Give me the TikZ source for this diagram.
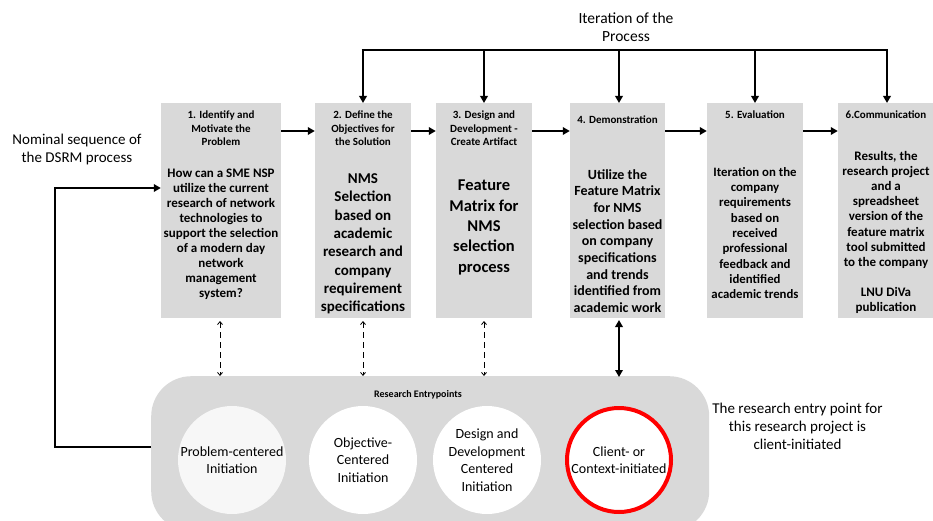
\documentclass[tikz,border=0pt]{standalone}
\usepackage{fontspec}
\setmainfont{Carlito}
\usetikzlibrary{arrows.meta}
\definecolor{boxgray}{HTML}{D9D9D9}
\definecolor{softwhite}{HTML}{F7F7F7}
\definecolor{entryred}{HTML}{FF0000}
\newcommand{\fs}[2]{\fontsize{#1}{#2}\selectfont}
\begin{document}
\begin{tikzpicture}[x=1pt,y=-1pt,
  stepbox/.style={fill=boxgray, draw=none, minimum height=215, inner sep=0, anchor=north},
  hdr/.style={align=center, inner sep=0, font=\fs{11}{13.5}\bfseries},
  body/.style={align=center, inner sep=0},
  flow/.style={line width=2.2pt, -{Triangle[length=7pt,width=7.5pt]}},
  drop/.style={line width=1.8pt, -{Triangle[length=7pt,width=7.5pt]}},
  dashlink/.style={line width=0.8pt, dash pattern=on 6pt off 4pt, {Straight Barb[length=3pt,width=5pt]}-{Straight Barb[length=3pt,width=5pt]}},
  mainlink/.style={line width=2pt, {Triangle[length=7pt,width=7.5pt]}-{Triangle[length=7pt,width=7.5pt]}},
  entry/.style={circle, minimum size=108, inner sep=0, align=center, font=\fs{14}{17.5}},
  note/.style={align=center, inner sep=0, font=\fs{15}{18}}
]
\useasboundingbox (0,0) rectangle (933,521);

% six process steps
\node[stepbox, minimum width=120] (b1) at (221,103) {};
\node[stepbox, minimum width=96] (b2) at (363,103) {};
\node[stepbox, minimum width=96] (b3) at (484,103) {};
\node[stepbox, minimum width=95] (b4) at (617.5,103) {};
\node[stepbox, minimum width=96] (b5) at (755,103) {};
\node[stepbox, minimum width=96] (b6) at (886,103) {};

% step headings
\node[hdr] (h1) at (221,128.5) {1. Identify and\\Motivate the\\Problem};
\node[hdr] (h2) at (363,128.5) {2. Define the\\Objectives for\\the Solution};
\node[hdr] (h3) at (484,128.5) {3. Design and\\Development -\\Create Artifact};
\node[hdr] (h4) at (617.5,120) {4. Demonstration};
\node[hdr] (h5) at (755,115) {5. Evaluation};
\node[hdr] (h6) at (886,115) {6.Communication};

% step contents
\node[body, font=\fs{13}{15}\bfseries] (c1) at (221,234) {How can a SME NSP\\utilize the current\\research of network\\technologies to\\support the selection\\of a modern day\\network\\management\\system?};
\node[body, font=\fs{15}{18.3}\bfseries] (c2) at (363,244) {NMS\\Selection\\based on\\academic\\research and\\company\\requirement\\specifications};
\node[body, font=\fs{16.5}{20.3}\bfseries] (c3) at (484,227.5) {Feature\\Matrix for\\NMS\\selection\\process};
\node[body, font=\fs{14}{16.7}\bfseries] (c4) at (617.5,241) {Utilize the\\Feature Matrix\\for NMS\\selection based\\on company\\specifications\\and trends\\identified from\\academic work};
\node[body, font=\fs{12.8}{15.3}\bfseries] (c5) at (755,233) {Iteration on the\\company\\requirements\\based on\\received\\professional\\feedback and\\identified\\academic trends};
\node[body, font=\fs{13}{15.1}\bfseries] (c6) at (886,232.5) {Results, the\\research project\\and a\\spreadsheet\\version of the\\feature matrix\\tool submitted\\to the company\\[15.1pt]LNU DiVa\\publication};

% nominal sequence
\draw[flow] ([yshift=-28pt]b1.north east) -- ([yshift=-28pt]b2.north west);
\draw[flow] ([yshift=-28pt]b2.north east) -- ([yshift=-28pt]b3.north west);
\draw[flow] ([yshift=-28pt]b3.north east) -- ([yshift=-28pt]b4.north west);
\draw[flow] ([yshift=-28pt]b4.north east) -- ([yshift=-28pt]b5.north west);
\draw[flow] ([yshift=-28pt]b5.north east) -- ([yshift=-28pt]b6.north west);

% iteration of the process
\node[note, font=\fs{15.5}{18}] (iter) at (626,27) {Iteration of the\\Process};
\coordinate (itr) at (0,50);
\coordinate (itl) at (363,50);
\coordinate (itrr) at (887,50);
\draw[line width=2.8pt] ([xshift=-1.4pt]itl) -- ([xshift=1.4pt]itrr);
\draw[drop] (itl) -- (b2.north);
\draw[drop] (b3.north |- itr) -- (b3.north);
\draw[drop] (619,50) coordinate (it4) -- (it4 |- b4.north);
\draw[drop] (b5.north |- itr) -- (b5.north);
\draw[drop] (itrr) -- (itrr |- b6.north);

% research entry points
\node[fill=boxgray, rounded corners=40, minimum width=558, minimum height=155, inner sep=0, anchor=north west] (ent) at (151,376) {};
\node[inner sep=0, font=\fs{10}{12}\bfseries] (entl) at (418,395) {Research Entrypoints};
\node[entry, fill=softwhite] (e1) at (232,460) {Problem-centered\\Initiation};
\node[entry, fill=white] (e2) at (363,460) {Objective-\\Centered\\Initiation};
\node[entry, fill=white] (e3) at (487,460) {Design and\\Development\\Centered\\Initiation};
\node[entry, fill=white, draw=entryred, line width=4pt, minimum size=104] (e4) at (619,460) {Client- or\\Context-initiated};

% links between steps and entry points
\draw[dashlink] (220,321) coordinate (d1) -- (d1 |- ent.north);
\draw[dashlink] (363,321) coordinate (d2) -- (d2 |- ent.north);
\draw[dashlink] (484,321) coordinate (d3) -- (d3 |- ent.north);
\draw[mainlink] (619,320) coordinate (d4) -- ([yshift=-1pt]d4 |- ent.north);

% feedback loop
\coordinate (fbc) at (55,447);
\coordinate (fbt) at (55,188);
\draw[line width=2.2pt, -{Triangle[length=7pt,width=7.5pt]}] (ent.west |- fbc) -- (fbc) -- (fbt) -- (b1.west |- fbt);
\node[note] (nom) at (77,149.5) {Nominal sequence of\\the DSRM process};

% note on the chosen entry point
\node[note] (rnote) at (797.5,426) {The research entry point for\\this research project is\\client-initiated};
\end{tikzpicture}
\end{document}
